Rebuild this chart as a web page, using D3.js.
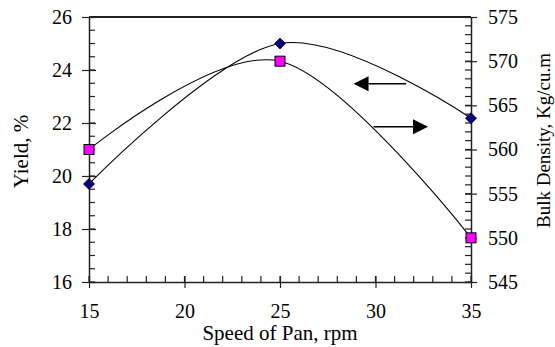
<!DOCTYPE html>
<html><head><meta charset="utf-8">
<script src="https://cdn.jsdelivr.net/npm/d3@7"></script>
<style>
body{margin:0;background:#fff;}
text{font-family:"Liberation Serif","Times New Roman",serif !important;fill:#000;}
</style></head>
<body><svg id="c" width="555" height="347"></svg>
<script>
const speeds = [15, 25, 35];
const yieldVals = [19.7, 25.0, 22.18];
const densityVals = [560, 570, 550];
const xTicks = [15, 20, 25, 30, 35];
const yLeftTicks = [16, 18, 20, 22, 24, 26];
const yRightTicks = [545, 550, 555, 560, 565, 570, 575];
// annotation arrows in data coords (x in rpm, y in yield units)
const arrowLeft = {from: [31.6, 23.48], to: [28.85, 23.48]};
const arrowRight = {from: [29.9, 21.86], to: [32.75, 21.86]};

const W = 555, H = 347;
const m = {l: 89, r: 84, t: 17, b: 65};
const svg = d3.select("#c");
const x = d3.scaleLinear().domain([15, 35]).range([m.l, W - m.r]);
const yL = d3.scaleLinear().domain([16, 26]).range([H - m.b, m.t]);
const yR = d3.scaleLinear().domain([545, 575]).range([H - m.b, m.t]);
const fs = 20;
const axisCol = "#222";
const serif = "'Liberation Serif', 'Times New Roman', serif";

// top border
svg.append("line").attr("x1", x(15)).attr("x2", x(35)).attr("y1", yL(26)).attr("y2", yL(26))
  .attr("stroke", axisCol).attr("stroke-width", 2);

// minor ticks
const g = svg.append("g").attr("stroke", axisCol).attr("stroke-width", 1.2);
d3.range(16, 26.01, 0.5).forEach(v => g.append("line").attr("x1", x(15)).attr("x2", x(15) + 6).attr("y1", yL(v)).attr("y2", yL(v)));
d3.range(545, 575.01, 1).forEach(v => g.append("line").attr("x1", x(35) - 6).attr("x2", x(35)).attr("y1", yR(v)).attr("y2", yR(v)));
d3.range(15, 35.01, 1).forEach(v => g.append("line").attr("x1", x(v)).attr("x2", x(v)).attr("y1", yL(16) - 6).attr("y2", yL(16)));

// axes with major ticks crossing
function styleAxis(sel) {
  sel.attr("font-family", serif).attr("font-size", fs);
  sel.select(".domain").attr("stroke", axisCol).attr("stroke-width", 1.5);
  sel.selectAll(".tick line").attr("stroke", axisCol).attr("stroke-width", 1.2);
  sel.selectAll(".tick text").style("font-size", fs + "px").style("font-family", serif).attr("fill", "#000");
}
const axL = svg.append("g").attr("transform", `translate(${x(15)},0)`)
  .call(d3.axisLeft(yL).tickValues(yLeftTicks).tickSizeInner(7).tickSizeOuter(0).tickPadding(10));
styleAxis(axL);
axL.selectAll(".tick line").attr("x2", 7).attr("x1", -7);
const axR = svg.append("g").attr("transform", `translate(${x(35)},0)`)
  .call(d3.axisRight(yR).tickValues(yRightTicks).tickSizeInner(6).tickSizeOuter(0).tickPadding(11));
styleAxis(axR);
axR.selectAll(".tick line").attr("x1", -6).attr("x2", 6);
const axB = svg.append("g").attr("transform", `translate(0,${yL(16)})`)
  .call(d3.axisBottom(x).tickValues(xTicks).tickSizeInner(6).tickSizeOuter(0).tickPadding(16));
styleAxis(axB);
axB.selectAll(".tick line").attr("y1", -6).attr("y2", 6);

// curves
const lineY = d3.line().x((d, i) => x(speeds[i])).y(d => yL(d)).curve(d3.curveCardinal.tension(0));
const lineD = d3.line().x((d, i) => x(speeds[i])).y(d => yR(d)).curve(d3.curveCardinal.tension(0));
svg.append("path").attr("d", lineY(yieldVals)).attr("fill", "none").attr("stroke", "#000").attr("stroke-width", 1.1);
svg.append("path").attr("d", lineD(densityVals)).attr("fill", "none").attr("stroke", "#000").attr("stroke-width", 1.1);

// markers
svg.selectAll(".dia").data(yieldVals).enter().append("path")
  .attr("d", "M0,-5.5L5.5,0L0,5.5L-5.5,0Z")
  .attr("transform", (d, i) => `translate(${x(speeds[i])},${yL(d)})`)
  .attr("fill", "#000080").attr("stroke", "#000").attr("stroke-width", 0.8);
svg.selectAll(".sq").data(densityVals).enter().append("rect")
  .attr("x", (d, i) => x(speeds[i]) - 5).attr("y", d => yR(d) - 5)
  .attr("width", 10).attr("height", 10)
  .attr("fill", "#ff00ff").attr("stroke", "#000").attr("stroke-width", 1);

// arrows
function arrow(a) {
  const x1 = x(a.from[0]), y1 = yL(a.from[1]), x2 = x(a.to[0]), y2 = yL(a.to[1]);
  const dir = Math.sign(x2 - x1), hl = 15, hw = 7.5;
  svg.append("line").attr("x1", x1).attr("y1", y1).attr("x2", x2 - dir * hl).attr("y2", y2)
    .attr("stroke", "#000").attr("stroke-width", 1.5);
  svg.append("path").attr("d", `M${x2},${y2}L${x2 - dir * hl},${y2 - hw}L${x2 - dir * hl},${y2 + hw}Z`).attr("fill", "#000");
}
arrow(arrowLeft); arrow(arrowRight);

// titles
svg.append("text").attr("x", (x(15) + x(35)) / 2).attr("y", 340).attr("text-anchor", "middle")
  .attr("font-size", 21).text("Speed of Pan, rpm");
svg.append("text").attr("transform", `translate(28,${(yL(16) + yL(26)) / 2 + 2}) rotate(-90)`).attr("text-anchor", "middle")
  .attr("font-size", 21).text("Yield, %");
svg.append("text").attr("transform", `translate(550,${(yL(16) + yL(26)) / 2 - 9}) rotate(-90)`).attr("text-anchor", "middle")
  .attr("font-size", 19).text("Bulk Density, Kg/cu.m");
</script></body></html>
